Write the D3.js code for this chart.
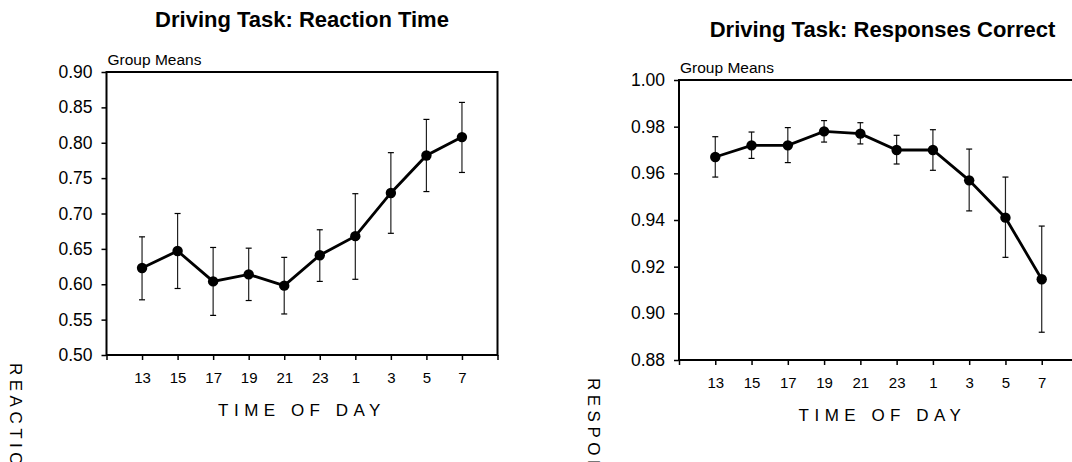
<!DOCTYPE html>
<html>
<head>
<meta charset="utf-8">
<script src="https://cdn.jsdelivr.net/npm/d3@7"></script>
<style>
  body { margin: 0; background: #fff; }
  svg { display: block; font-family: "Liberation Sans", Arial, sans-serif; }
</style>
</head>
<body>
<div id="chart"></div>
<script>
// time of day categories (shared x axis)
var hours = ['13', '15', '17', '19', '21', '23', '1', '3', '5', '7'];

// reaction time: group means with error bar ends
var rtMean = [0.623, 0.647, 0.604, 0.614, 0.598, 0.641, 0.668, 0.729, 0.782, 0.808];
var rtLow  = [0.578, 0.594, 0.556, 0.577, 0.558, 0.604, 0.607, 0.672, 0.731, 0.758];
var rtHigh = [0.667, 0.700, 0.652, 0.651, 0.638, 0.677, 0.728, 0.786, 0.833, 0.857];
var rtTicks = [0.50, 0.55, 0.60, 0.65, 0.70, 0.75, 0.80, 0.85, 0.90];

// responses correct
var rcMean = [0.967, 0.972, 0.972, 0.978, 0.977, 0.970, 0.970, 0.957, 0.941, 0.9146];
var rcLow  = [0.9584, 0.9664, 0.9646, 0.9734, 0.9726, 0.964, 0.9613, 0.9439, 0.924, 0.8919];
var rcHigh = [0.9757, 0.9777, 0.9796, 0.9826, 0.9817, 0.9763, 0.9787, 0.9704, 0.9584, 0.9374];
var rcTicks = [0.88, 0.90, 0.92, 0.94, 0.96, 0.98, 1.00];

var svg = d3.select("#chart")
  .append("svg")
  .attr("width", 1072)
  .attr("height", 462);

function drawPanel(opt) {
  var g = svg.append("g");

  var x = d3.scaleLinear().domain([0, hours.length + 1]).range([opt.left, opt.right]);
  var y = d3.scaleLinear().domain(opt.domain).range([opt.bottom, opt.top]);

  // title
  g.append("text")
    .attr("x", (opt.left + opt.right) / 2 + opt.titleShift)
    .attr("y", opt.titleY)
    .attr("text-anchor", "middle")
    .style("font-size", "22px")
    .style("font-weight", "bold")
    .text(opt.title);

  g.append("text")
    .attr("x", opt.left + 1)
    .attr("y", opt.top - 7)
    .style("font-size", "15.5px")
    .text("Group Means");

  // y axis
  var yAxis = g.append("g")
    .attr("transform", "translate(" + opt.left + ",0)")
    .call(d3.axisLeft(y).tickValues(opt.ticks).tickSize(5).tickPadding(9).tickFormat(d3.format(".2f")));
  yAxis.select(".domain").remove();
  yAxis.selectAll(".tick line").attr("stroke", "#000").attr("stroke-width", 1.5);
  yAxis.selectAll("text").style("font-size", "17.5px").attr("fill", "#000");

  // x axis
  var xAxis = g.append("g")
    .attr("transform", "translate(0," + opt.bottom + ")")
    .call(d3.axisBottom(x).tickValues(d3.range(0, hours.length + 2)).tickSize(5).tickPadding(12)
      .tickFormat(function(d) { return (d >= 1 && d <= hours.length) ? hours[d - 1] : ""; }));
  xAxis.select(".domain").remove();
  xAxis.selectAll(".tick line").attr("stroke", "#000").attr("stroke-width", 1.5);
  xAxis.selectAll("text").style("font-size", "15px").attr("fill", "#000");

  // frame
  g.append("rect")
    .attr("x", opt.left)
    .attr("y", opt.top)
    .attr("width", opt.right - opt.left)
    .attr("height", opt.bottom - opt.top)
    .attr("fill", "none")
    .attr("stroke", "#000")
    .attr("stroke-width", 2);

  g.append("text")
    .attr("x", (opt.left + opt.right) / 2 + opt.titleShift)
    .attr("y", opt.bottom + 61)
    .attr("text-anchor", "middle")
    .style("font-size", "17px")
    .style("letter-spacing", "5.5px")
    .text("TIME OF DAY");

  // vertical axis title, mostly cut off at the bottom edge as in the original
  g.append("text")
    .attr("transform", "translate(" + opt.vx + "," + opt.vy + ") rotate(90)")
    .style("font-size", "17px")
    .style("letter-spacing", "4.5px")
    .text(opt.vtitle);

  // error bars
  var bars = g.selectAll(".err")
    .data(opt.mean.map(function(m, i) { return { i: i + 1, lo: opt.low[i], hi: opt.high[i] }; }))
    .enter().append("g");
  bars.append("line")
    .attr("x1", function(d) { return x(d.i); })
    .attr("x2", function(d) { return x(d.i); })
    .attr("y1", function(d) { return y(d.lo); })
    .attr("y2", function(d) { return y(d.hi); })
    .attr("stroke", "#222").attr("stroke-width", 1.2);
  ["lo", "hi"].forEach(function(k) {
    bars.append("line")
      .attr("x1", function(d) { return x(d.i) - 3; })
      .attr("x2", function(d) { return x(d.i) + 3; })
      .attr("y1", function(d) { return y(d[k]); })
      .attr("y2", function(d) { return y(d[k]); })
      .attr("stroke", "#000").attr("stroke-width", 1.2);
  });

  var line = d3.line()
    .x(function(d, i) { return x(i + 1); })
    .y(function(d) { return y(d); });

  g.append("path")
    .datum(opt.mean)
    .attr("d", line)
    .attr("fill", "none")
    .attr("stroke", "#000")
    .attr("stroke-width", 2.8);

  g.selectAll(".pt")
    .data(opt.mean)
    .enter().append("circle")
    .attr("cx", function(d, i) { return x(i + 1); })
    .attr("cy", function(d) { return y(d); })
    .attr("r", 5.2)
    .attr("fill", "#000");
}

drawPanel({
  title: "Driving Task: Reaction Time", titleY: 27, titleShift: 0,
  left: 106.5, right: 497.5, top: 72, bottom: 355,
  domain: [0.50, 0.90], ticks: rtTicks,
  mean: rtMean, low: rtLow, high: rtHigh,
  vtitle: "REACTION TIME", vx: 10, vy: 363
});

drawPanel({
  title: "Driving Task: Responses Correct", titleY: 36.5, titleShift: 4,
  left: 679, right: 1078, top: 80, bottom: 360,
  domain: [0.88, 1.00], ticks: rcTicks,
  mean: rcMean, low: rcLow, high: rcHigh,
  vtitle: "RESPONSES CORRECT", vx: 588, vy: 378
});
</script>
</body>
</html>
